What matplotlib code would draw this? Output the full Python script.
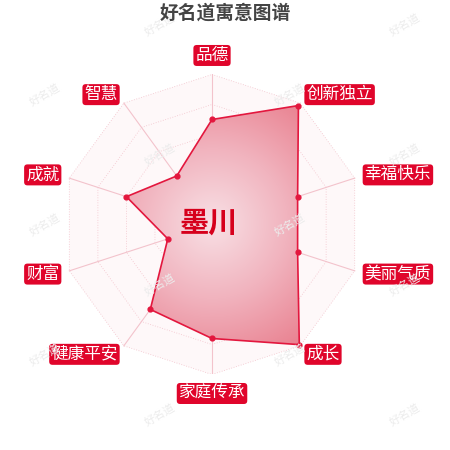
import numpy as np
import matplotlib
matplotlib.use('Agg')
import matplotlib.pyplot as plt
from matplotlib.patches import Polygon
from matplotlib.colors import LinearSegmentedColormap

plt.rcParams['font.family'] = ['Noto Sans CJK SC', 'DejaVu Sans']

# data
title = '好名道寓意图谱'
name = '墨川'
categories = ['品德', '创新独立', '幸福快乐', '美丽气质', '成长',
              '家庭传承', '健康平安', '财富', '成就', '智慧']
scores = [70, 98, 60, 60, 99, 76, 70, 31, 60, 40]
max_score = 100
levels = [0.2, 0.4, 0.6, 0.8, 1.0]
watermark = '好名道'

fig = plt.figure(figsize=(4.5, 4.5), dpi=100)
fig.patch.set_facecolor('white')

# faint watermark pattern in the background
for i, col in enumerate([45, 160, 290, 405]):
    rows = [95, 225, 355] if i % 2 == 0 else [25, 155, 285, 415]
    for row in rows:
        fig.text(col / 450, 1 - row / 450, watermark, fontsize=8, rotation=30,
                 color='#ececec', ha='center', va='center', zorder=0)

# radar axes, centred on the chart area
ax = fig.add_axes([0.1378, 0.1678, 0.6667, 0.6667])
ax.set_xlim(-1, 1)
ax.set_ylim(-1, 1)
ax.set_aspect('equal')
ax.axis('off')
ax.patch.set_alpha(0)

n = len(categories)
angles = np.arange(n) * 2 * np.pi / n
sx, sy = np.sin(angles), np.cos(angles)

# barely visible background inside the outer ring
ax.add_patch(Polygon(np.column_stack([sx, sy]), closed=True,
                     facecolor='#fef8f9', edgecolor='none', zorder=0.5))

# dotted polygon rings
for lv in levels:
    ax.plot(np.append(sx, sx[0]) * lv, np.append(sy, sy[0]) * lv,
            ls=(0, (1, 2)), lw=0.6, color='#f3c2cb', zorder=1)
# spokes
for x, y in zip(sx, sy):
    ax.plot([0, x], [0, y], color='#f3c3cc', lw=0.8, zorder=1)

# score polygon with radial gradient fill
r = np.array(scores) / max_score
px, py = r * sx, r * sy
poly = Polygon(np.column_stack([px, py]), closed=True, facecolor='none',
               edgecolor='#e3173e', lw=1.2, zorder=3)
ax.add_patch(poly)
gx, gy = np.meshgrid(np.linspace(-1, 1, 300), np.linspace(-1, 1, 300))
gr = np.hypot(gx, gy)
cmap = LinearSegmentedColormap.from_list('fill', ['#f8e0e5', '#f1b3be', '#e9808f'])
im = ax.imshow(gr, extent=(-1, 1, -1, 1), origin='lower', cmap=cmap,
               vmin=0, vmax=1, zorder=2)
im.set_clip_path(poly)
ax.set_xlim(-1, 1)
ax.set_ylim(-1, 1)
ax.scatter(px, py, s=12, color='#e3173e', zorder=4)

# axis names in red boxes
for x, y, lab in zip(sx, sy, categories):
    lr = 1.07
    if abs(x) < 0.01:
        ha, va = 'center', ('bottom' if y > 0 else 'top')
    elif x > 0:
        ha, va = 'left', 'center'
    else:
        ha, va = 'right', 'center'
    ax.text(lr * x, lr * y, lab, ha=ha, va=va, fontsize=12, color='white',
            zorder=5, clip_on=False,
            bbox=dict(boxstyle='round,pad=0.12,rounding_size=0.2',
                      fc='#e0052b', ec='none'))

# name in the centre
ax.text(-0.02, 0.015, name, ha='center', va='center', fontsize=21,
        fontweight='bold', color='#d6001c', zorder=6)

fig.text(0.5, 1 - 13 / 450, title, ha='center', va='center', fontsize=13.5,
         fontweight='bold', color='#444444')

fig.savefig('out.png', dpi=100)
